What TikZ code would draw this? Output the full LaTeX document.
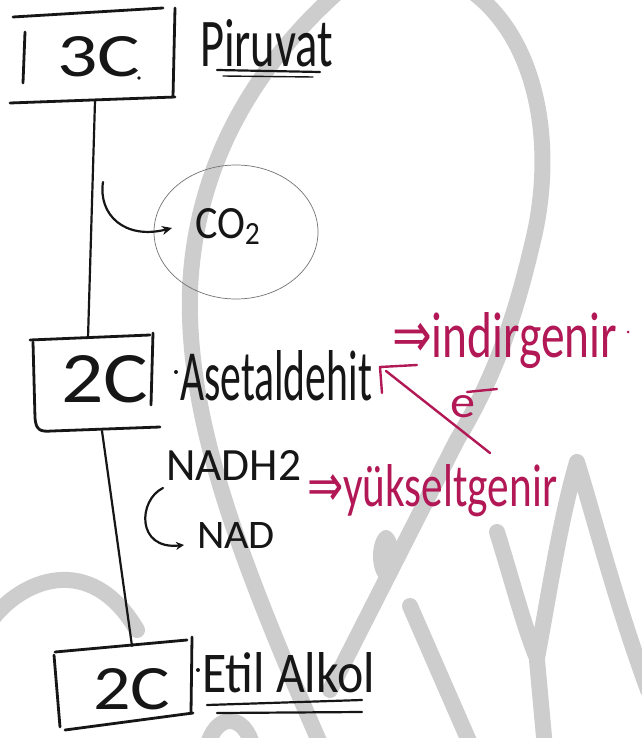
\documentclass[tikz,border=0pt]{standalone}
\usepackage{fontspec}
\setmainfont{Carlito}
\newfontfamily\symf{DejaVu Sans}
\usepackage{graphicx}
\usetikzlibrary{arrows.meta}
\definecolor{ink}{RGB}{22,22,22}
\definecolor{pinkink}{RGB}{178,24,86}
\definecolor{wm}{RGB}{205,205,205}
\newcommand\hw[3]{\resizebox{#1pt}{#2pt}{#3}}
\begin{document}
\begin{tikzpicture}[x=1pt,y=-1pt,line cap=round,line join=round,
  boxline/.style={draw=ink,line width=2.8pt},
  inkline/.style={draw=ink,line width=2.2pt},
  pinkline/.style={draw=pinkink,line width=2.4pt},
  wmark/.style={draw=wm,line width=16pt},
  txt/.style={inner sep=0pt,outer sep=0pt,anchor=base west,text=ink},
  ptxt/.style={txt,text=pinkink}]
\useasboundingbox (0,0) rectangle (641,738);
\fill[white] (0,0) rectangle (641,738);
% watermark
\draw[wmark] (340,-10) .. controls (250,70) and (195,170) .. (190,290)
   .. controls (186,420) and (240,560) .. (322,748);
\draw[wmark] (470,-10) .. controls (540,40) and (556,150) .. (532,245)
   .. controls (512,330) and (490,385) .. (457,440) -- (330,690);
\fill[wm] (386,556) ellipse [x radius=13,y radius=26];
\draw[wmark] (410,606) -- (472,748);
\draw[wmark] (497,532) .. controls (512,580) and (525,630) .. (537,658)
   .. controls (548,600) and (560,520) .. (577,462)
   .. controls (595,520) and (615,600) .. (648,690);
\draw[wmark] (537,660) -- (545,748);
\draw[wmark] (-10,622) .. controls (20,580) and (90,550) .. (137,630);
\draw[wmark] (207,748) .. controls (215,712) and (245,712) .. (253,748);
% box 1
\draw[boxline] (13,17) -- (163,8);
\draw[boxline] (175,8) -- (173,97);
\draw[boxline] (10,103) -- (175,97);
\draw[boxline] (25,32) -- (23,83);
\fill[ink] (139,78) circle (1.8);
\node[txt] (t3c) at (57,77) {\hw{83}{40}{3C}};
\node[txt] (piruvat) at (200,67) {\hw{133}{47}{Piruvat}};
\draw[inkline] (217,70) -- (320,72);
\draw[draw=ink,line width=1.4pt] (223,76) -- (313,77);
% connector 1
\coordinate (b1s) at (95,101);
\coordinate (b2n) at (88,338);
\draw[inkline] (b1s) -- (b2n);
% CO2
\draw[draw=black!55,line width=0.7pt] (236,232) ellipse [x radius=82,y radius=67];
\coordinate (co2a) at (103,182);
\coordinate (co2b) at (172,228);
\draw[inkline,-{Stealth[length=10pt,width=9pt]}] (co2a) .. controls (98,215) and (125,240) .. (co2b);
\node[txt] (co2) at (195,238) {\hw{67}{30}{CO\textsubscript{2}}};
% box 2
\draw[boxline] (30,340) -- (150,335);
\draw[boxline] (153,333) -- (151,405);
\draw[boxline] (33,342) -- (35,418) .. controls (36,430) and (40,432) .. (52,431) -- (160,427);
\node[txt] (t2cb) at (61,402) {\hw{87}{47}{2C}};
\fill[ink] (176,372) circle (2);
\node[txt] (aset) at (180,400) {\hw{192}{50}{Asetaldehit}};
\node[ptxt] (indir) at (392,357) {\hw{225}{45}{{\symf ⇒}indirgenir}};
\fill[pinkink] (628,332) circle (1.5);
% magenta arrow
\coordinate (ma) at (490,453);
\coordinate (mb) at (386,371);
\coordinate (mc) at (380,367);
\draw[pinkline] (ma) -- (mb);
\draw[pinkline] (382,393) -- (mc) -- (417,365);
\node[ptxt] (elec) at (450,417) {\hw{25}{22}{e}};
\draw[pinkline] (467,392) -- (497,389);
% connector 2
\coordinate (b2s) at (102,431);
\coordinate (b3n) at (132,646);
\draw[inkline] (b2s) -- (b3n);
% NAD
\node[txt] (nadh) at (166,480) {\hw{135}{30}{NADH2}};
\coordinate (na) at (163,488);
\coordinate (nb) at (184,545);
\draw[inkline,-{Stealth[length=8pt,width=8pt]}] (na) .. controls (138,500) and (136,550) .. (nb);
\node[txt] (nad) at (197,548) {\hw{78}{26}{NAD}};
\node[ptxt] (yuk) at (307,506) {\hw{250}{42}{{\symf ⇒}yükseltgenir}};
% box 3
\draw[boxline] (55,652) -- (187,640);
\draw[boxline] (192,637) -- (191,713);
\draw[boxline] (54,655) -- (60,727);
\draw[boxline] (65,730) -- (193,713);
\node[txt] (t2cc) at (93,709) {\hw{77}{41}{2C}};
\fill[ink] (198,670) circle (2);
\node[txt] (etil) at (202,692) {\hw{173}{40}{Etil Alkol}};
\draw[inkline] (207,705) -- (362,700);
\draw[inkline] (217,713) -- (362,712);
\end{tikzpicture}
\end{document}
